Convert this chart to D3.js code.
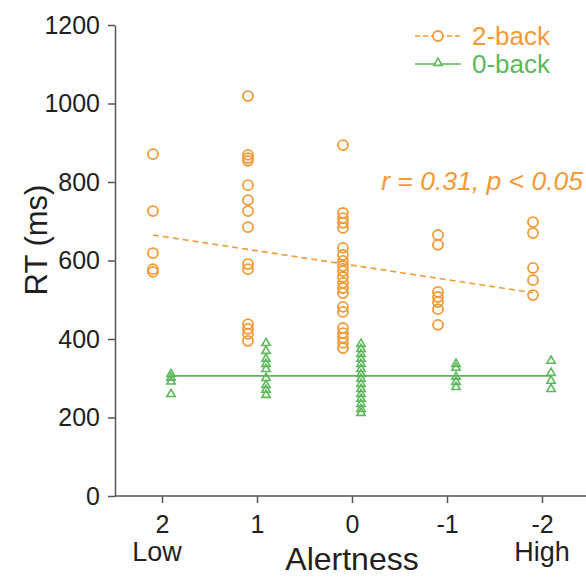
<!DOCTYPE html>
<html lang='en'>
<head>
	<meta charset='UTF-8'/>
	<title>RT vs Alertness</title>
	<script src='https://cdn.jsdelivr.net/npm/d3@7'></script>
	<style>
		body {margin: 0; background: #fff;}
		svg {display: block; font-family: 'Liberation Sans', Arial, sans-serif;}
	</style>
</head>
<body>
	<div class='graph'></div>
	<script>
		// alertness levels (x) and reaction times (ms) per level
		const levels = [2, 1, 0, -1, -2];
		const levelNames = ['Low', '', '', '', 'High'];
		const yTicks = [0, 200, 400, 600, 800, 1000, 1200];

		const rt2back = [
			[871, 726, 619, 578, 571],
			[1019, 869, 861, 854, 792, 754, 726, 685, 591, 578, 438, 426, 413, 395],
			[894, 721, 708, 696, 683, 632, 614, 599, 586, 573, 558, 543, 530, 517, 482, 469, 428, 415, 403, 390, 377],
			[665, 640, 520, 507, 494, 476, 436],
			[698, 670, 581, 550, 512]
		];
		const rt0back = [
			[313, 304, 294, 262],
			[392, 372, 352, 339, 326, 303, 285, 273, 260],
			[390, 377, 364, 352, 339, 326, 313, 301, 288, 275, 262, 250, 237, 224, 214],
			[339, 329, 306, 293, 280],
			[347, 316, 296, 275]
		];
		// fitted lines, value at first and last level
		const fit2back = [665, 518];
		const fit0back = [306, 306];

		const ORANGE = '#f39a37';
		const GREEN = '#5cb85b';
		const INK = '#231f20';

		const width = 586, height = 578;
		const svg = d3.select('.graph').append('svg')
			.attr('width', width).attr('height', height);

		const x = d3.scaleLinear().domain([2.5, -2.5]).range([114.5, 589.5]);
		const y = d3.scaleLinear().domain([0, 1200]).range([496, 25]);
		const shift = 0.095; // side-by-side offset of the two tasks

		// axes
		const yAxis = svg.append('g')
			.attr('transform', 'translate(115,0)')
			.call(d3.axisLeft(y).tickValues(yTicks).tickSize(7).tickSizeOuter(0).tickPadding(8)
				.tickFormat(d3.format('d')));
		const xAxis = svg.append('g')
			.attr('transform', 'translate(0,496)')
			.call(d3.axisBottom(x).tickValues(levels).tickSize(7).tickSizeOuter(0).tickPadding(12)
				.tickFormat(d3.format('d')));
		[xAxis, yAxis].forEach(g => {
			g.select('.domain').attr('stroke', '#555').attr('stroke-width', 1.5);
			g.selectAll('.tick line').attr('stroke', '#555').attr('stroke-width', 1.5);
			g.selectAll('.tick text').attr('fill', INK).style('font-size', '25px');
		});
		xAxis.select('.domain').attr('d', 'M115,0H586');
		xAxis.selectAll('.tick text').text(d => d < 0 ? '-' + Math.abs(d) : d);

		svg.selectAll('.lvl')
			.data(levels)
			.enter()
			.append('text')
			.attr('x', d => x(d) + (d > 0 ? -5 : 0))
			.attr('y', 561)
			.attr('text-anchor', 'middle')
			.attr('fill', INK)
			.style('font-size', '27px')
			.text((d, i) => levelNames[i]);

		svg.append('text')
			.attr('x', 352).attr('y', 570)
			.attr('text-anchor', 'middle')
			.attr('fill', INK)
			.style('font-size', '32px')
			.text('Alertness');

		svg.append('text')
			.attr('transform', 'rotate(-90)')
			.attr('x', -240).attr('y', 47)
			.attr('text-anchor', 'middle')
			.attr('fill', INK)
			.style('font-size', '31px')
			.text('RT (ms)');

		// fit lines
		const first = levels[0], last = levels[levels.length - 1];
		svg.append('line')
			.attr('x1', x(first + shift)).attr('x2', x(last + shift))
			.attr('y1', y(fit2back[0])).attr('y2', y(fit2back[1]))
			.attr('stroke', ORANGE).attr('stroke-width', 1.6)
			.attr('stroke-dasharray', '6,4');
		svg.append('line')
			.attr('x1', x(first - shift)).attr('x2', x(last - shift))
			.attr('y1', y(fit0back[0])).attr('y2', y(fit0back[1]))
			.attr('stroke', GREEN).attr('stroke-width', 1.6);

		// points
		const pts2 = levels.flatMap((l, i) => rt2back[i].map(v => ({l, v})));
		const pts0 = levels.flatMap((l, i) => rt0back[i].map(v => ({l, v})));
		const tri = d3.symbol().type(d3.symbolTriangle).size(30);

		svg.selectAll('.c2')
			.data(pts2)
			.enter()
			.append('circle')
			.attr('cx', d => x(d.l + shift))
			.attr('cy', d => y(d.v))
			.attr('r', 5)
			.attr('fill', 'none')
			.attr('stroke', ORANGE)
			.attr('stroke-width', 1.8);

		svg.selectAll('.t0')
			.data(pts0)
			.enter()
			.append('path')
			.attr('d', tri)
			.attr('transform', d => 'translate(' + x(d.l - shift) + ',' + (y(d.v) + 1) + ')')
			.attr('fill', 'none')
			.attr('stroke', GREEN)
			.attr('stroke-width', 1.6);

		// annotation
		svg.append('text')
			.attr('x', 583).attr('y', 190)
			.attr('text-anchor', 'end')
			.attr('fill', ORANGE)
			.style('font-size', '26.5px')
			.style('font-style', 'italic')
			.text('r = 0.31, p < 0.05');

		// legend
		const legend = svg.append('g');
		const items = [
			{name: '2-back', color: ORANGE, dash: '5,3', mark: 'circle'},
			{name: '0-back', color: GREEN, dash: null, mark: 'tri'}
		];
		items.forEach((it, i) => {
			const cy = 36 + i * 28;
			legend.append('line')
				.attr('x1', 415).attr('x2', 461).attr('y1', cy).attr('y2', cy)
				.attr('stroke', it.color).attr('stroke-width', 1.6)
				.attr('stroke-dasharray', it.dash);
			if (it.mark === 'circle') {
				legend.append('circle').attr('cx', 438).attr('cy', cy).attr('r', 5)
					.attr('fill', '#fff').attr('stroke', it.color).attr('stroke-width', 1.8);
			} else {
				legend.append('path').attr('d', tri)
					.attr('transform', 'translate(438,' + (cy - 1) + ')')
					.attr('fill', '#fff').attr('stroke', it.color).attr('stroke-width', 1.6);
			}
			legend.append('text')
				.attr('x', 472).attr('y', cy + 9)
				.attr('fill', it.color)
				.style('font-size', '26px')
				.text(it.name);
		});
	</script>
</body>
</html>
